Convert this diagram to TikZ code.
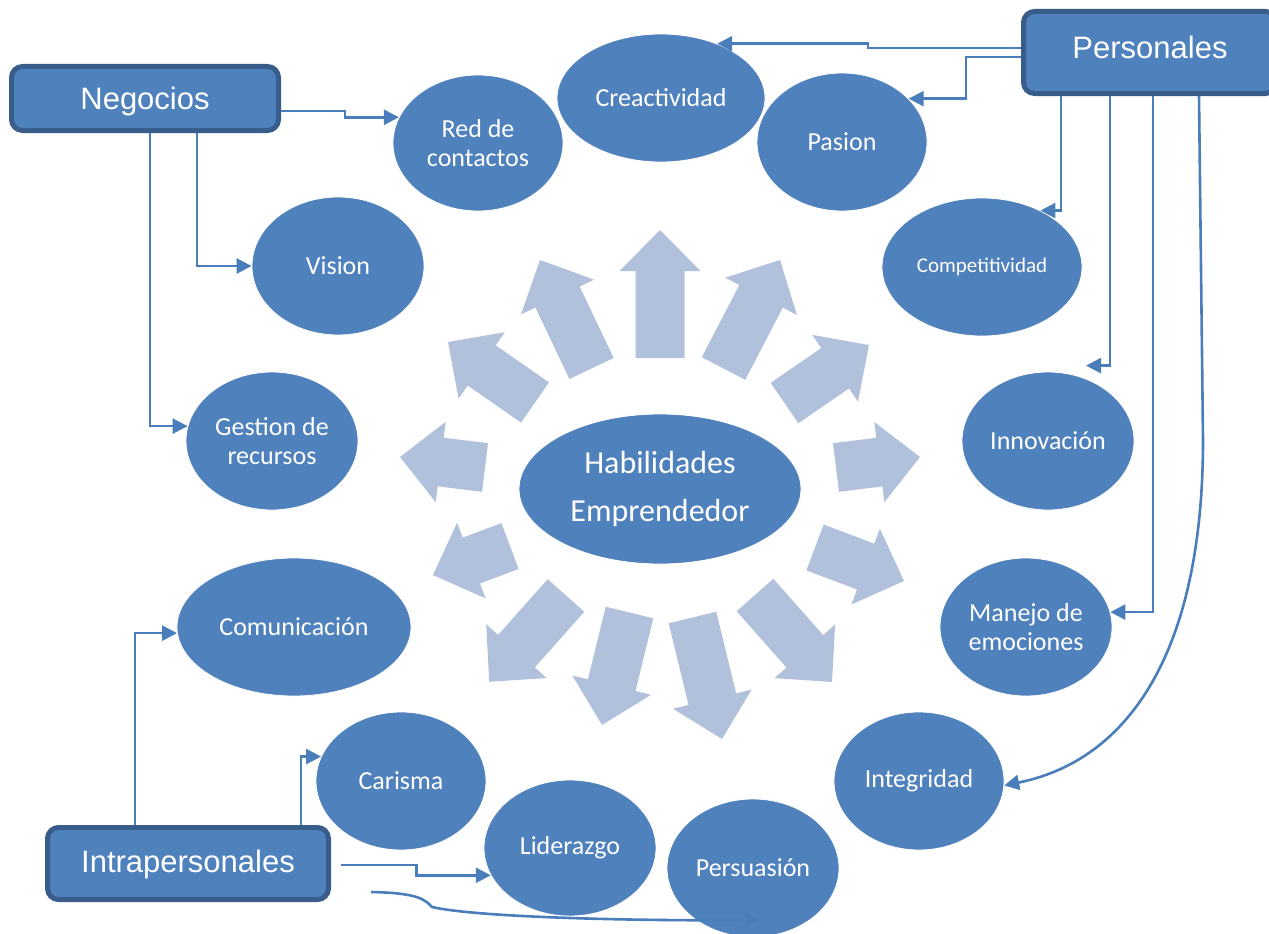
\documentclass[tikz,border=0pt]{standalone}
\usepackage{fontspec}
\setmainfont{Carlito}
\newfontfamily\arialf{Liberation Sans}
\usetikzlibrary{shapes.geometric,arrows.meta}
\definecolor{fillblue}{HTML}{4F81BD}
\definecolor{darkblue}{HTML}{385D8A}
\definecolor{lightblue}{HTML}{B1C1DC}
\definecolor{linkblue}{HTML}{4A7EBB}
\newcommand\blockarr[4]{%
  \pgfmathsetmacro\bdx{#3-(#1)}%
  \pgfmathsetmacro\bdy{#4-(#2)}%
  \pgfmathsetmacro\blen{veclen(\bdx,\bdy)}%
  \pgfmathsetmacro\bang{atan2(-\bdy,\bdx)}%
  \pgfmathsetmacro\bneck{\blen-41}%
  \fill[arrowfill, shift={(#1,#2)}, rotate=\bang] (0,-24.5) -- (\bneck,-24.5) -- (\bneck,-40.5) -- (\blen,0) -- (\bneck,40.5) -- (\bneck,24.5) -- (0,24.5) -- cycle;}
\tikzset{
  arrowfill/.style={fill=lightblue},
  ell/.style={ellipse, fill=fillblue, draw=white, line width=0.8pt, inner sep=0pt, text=white, align=center, font=\fontsize{26}{29}\selectfont},
  box/.style={draw=darkblue, fill=fillblue, line width=5pt, rounded corners=11pt, text=white, inner sep=0pt, text height=22pt, text depth=0pt, font=\arialf\fontsize{31}{36}\selectfont},
  conn/.style={draw=linkblue, line width=2.6pt, -{Triangle[length=15pt,width=15pt]}}
}
\begin{document}
\begin{tikzpicture}[x=1pt,y=-1pt]
\useasboundingbox (0,0) rectangle (1269,934);
\clip (0,0) rectangle (1269,934);
% block arrows
\blockarr{660}{358}{660}{230}
\blockarr{591.5}{368.5}{540}{260}
\blockarr{723.5}{368.5}{780}{260}
\blockarr{535}{402.5}{448}{342}
\blockarr{784.5}{403}{869}{345}
\blockarr{485}{467.5}{400}{457}
\blockarr{836}{467.5}{920}{457}
\blockarr{510}{546}{433}{575}
\blockarr{815}{547.5}{904}{581}
\blockarr{566}{595.5}{489}{682}
\blockarr{755}{595}{832}{682}
\blockarr{629.5}{612.5}{602}{725}
\blockarr{692.5}{617.5}{722}{739}
% ellipses
\node[ell, minimum width=170, minimum height=136] (red) at (478,143) {Red de\\contactos};
\node[ell, minimum width=208, minimum height=128] (cre) at (661,98) {Creactividad};
\node[ell, minimum width=170, minimum height=138] (pas) at (842,142) {Pasion};
\node[ell, minimum width=200, minimum height=138, font=\fontsize{21}{25}\selectfont] (comp) at (982,267) {Competitividad};
\node[ell, minimum width=172, minimum height=138] (inn) at (1048,441) {Innovación};
\node[ell, minimum width=172, minimum height=138] (man) at (1026,627) {Manejo de\\emociones};
\node[ell, minimum width=170, minimum height=138] (integ) at (919,781) {Integridad};
\node[ell, minimum width=172, minimum height=136] (lid) at (570,848) {Liderazgo};
\node[ell, minimum width=172, minimum height=138] (pers) at (753,868) {Persuasión};
\node[ell, minimum width=170, minimum height=138] (car) at (401,781) {Carisma};
\node[ell, minimum width=234, minimum height=138] (com) at (294,627) {Comunicación};
\node[ell, minimum width=172, minimum height=138] (ges) at (272,441) {Gestion de\\recursos};
\node[ell, minimum width=172, minimum height=138] (vis) at (338,266) {Vision};
\node[ell, minimum width=282, minimum height=150, font=\fontsize{32}{48}\selectfont] (hab) at (660,489) {Habilidades\\Emprendedor};
% boxes
\node[box, minimum width=267, minimum height=64] (neg) at (145,98.5) {Negocios};
\node[box, minimum width=253, minimum height=82, text depth=10pt] (per) at (1150,52.5) {Personales};
\node[box, minimum width=281, minimum height=72, text depth=4pt] (intra) at (188,863.5) {Intrapersonales};
% connectors: Negocios
\draw[conn] ([yshift=-12.5pt]neg.east) -- ++(64,0) |- (red.162);
\draw[conn] ([xshift=52pt]neg.south) |- (vis.west);
\draw[conn] ([xshift=5pt]neg.south) |- (ges.170);
% connectors: Personales
\draw[conn] ([yshift=4.5pt]per.west) -- ++(-153,0) |- (cre.44);
\draw[conn] ([yshift=-4.5pt]per.west) -- ++(-55,0) |- (pas.33);
\draw[conn] ([xshift=-89pt]per.south) |- (comp.44);
\draw[conn] ([xshift=-40pt]per.south) |- ([xshift=38pt,yshift=6pt]inn.north);
\draw[conn] ([xshift=3pt]per.south) |- (man.10);
\draw[conn] ([xshift=49pt]per.south) -- (1203,440) .. controls (1203,650) and (1130,760) .. (integ.-3);
% connectors: Intrapersonales
\draw[conn] ([xshift=-53pt]intra.north) |- (com.183);
\draw[conn] ([xshift=113pt]intra.north) |- (car.163);
\draw[conn] ([xshift=9.5pt,yshift=-1.5pt]intra.east) -- ++(76,0) |- (lid.199);
\draw[conn] ([xshift=40pt,yshift=-28.5pt]intra.east) .. controls (420,893) and (425,900) .. (432,907) .. controls (480,918) and (650,921) .. ([xshift=7pt,yshift=-52pt]pers.center);
\end{tikzpicture}
\end{document}
